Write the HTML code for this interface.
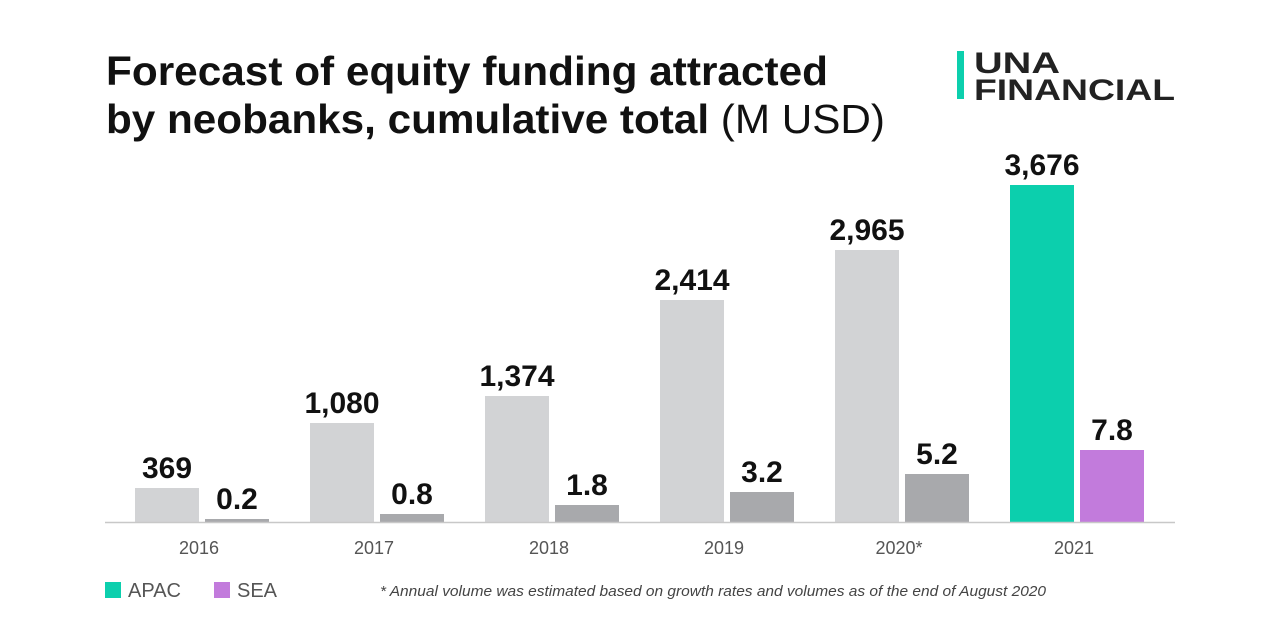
<!DOCTYPE html>
<html><head><meta charset="utf-8"><style>
body{margin:0;background:#fff;}
svg{display:block;font-family:"Liberation Sans",Arial,sans-serif;}
</style></head><body>
<svg width="1280" height="630" viewBox="0 0 1280 630">
<rect width="1280" height="630" fill="#fff"/>
<text x="106" y="85" font-size="41" font-weight="bold" fill="#111" textLength="722" lengthAdjust="spacingAndGlyphs">Forecast of equity funding attracted</text>
<text x="106" y="133" font-size="41" font-weight="bold" fill="#111" textLength="779" lengthAdjust="spacingAndGlyphs">by neobanks, cumulative total <tspan font-weight="normal">(M USD)</tspan></text>
<rect x="957" y="51" width="7" height="48" fill="#0ccfad"/>
<text x="974" y="73" font-size="30" font-weight="bold" fill="#222" textLength="86" lengthAdjust="spacingAndGlyphs">UNA</text>
<text x="974" y="100" font-size="30" font-weight="bold" fill="#222" textLength="201" lengthAdjust="spacingAndGlyphs">FINANCIAL</text>
<g fill="#d2d3d5">
<rect x="135" y="488" width="64" height="34"/>
<rect x="310" y="423" width="64" height="99"/>
<rect x="485" y="396" width="64" height="126"/>
<rect x="660" y="300" width="64" height="222"/>
<rect x="835" y="250" width="64" height="272"/>
</g>
<g fill="#a8a9ac">
<rect x="205" y="519" width="64" height="3"/>
<rect x="380" y="514" width="64" height="8"/>
<rect x="555" y="505" width="64" height="17"/>
<rect x="730" y="492" width="64" height="30"/>
<rect x="905" y="474" width="64" height="48"/>
</g>
<rect x="1010" y="185" width="64" height="337" fill="#0ccfad"/>
<rect x="1080" y="450" width="64" height="72" fill="#c27bdc"/>
<line x1="105" y1="522.5" x2="1175" y2="522.5" stroke="#c8c8c8" stroke-width="1.5"/>
<g font-size="30" font-weight="bold" fill="#111" text-anchor="middle">
<text x="167" y="478">369</text><text x="237" y="509">0.2</text>
<text x="342" y="413">1,080</text><text x="412" y="504">0.8</text>
<text x="517" y="386">1,374</text><text x="587" y="495">1.8</text>
<text x="692" y="290">2,414</text><text x="762" y="482">3.2</text>
<text x="867" y="240">2,965</text><text x="937" y="464">5.2</text>
<text x="1042" y="175">3,676</text><text x="1112" y="440">7.8</text>
</g>
<g font-size="18" fill="#555" text-anchor="middle">
<text x="199" y="554">2016</text><text x="374" y="554">2017</text><text x="549" y="554">2018</text>
<text x="724" y="554">2019</text><text x="899" y="554">2020*</text><text x="1074" y="554">2021</text>
</g>
<rect x="105" y="582" width="16" height="16" fill="#0ccfad"/>
<text x="128" y="597" font-size="20" fill="#555">APAC</text>
<rect x="214" y="582" width="16" height="16" fill="#c27bdc"/>
<text x="237" y="597" font-size="20" fill="#555">SEA</text>
<text x="380" y="596" font-size="15" font-style="italic" fill="#444" textLength="666" lengthAdjust="spacingAndGlyphs">* Annual volume was estimated based on growth rates and volumes as of the end of August 2020</text>
</svg>
</body></html>
